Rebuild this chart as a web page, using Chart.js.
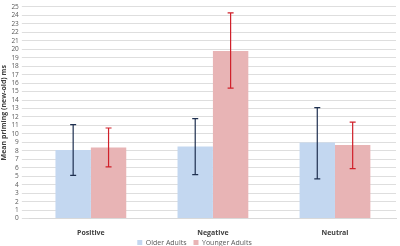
<!DOCTYPE html>
<html>
<head>
<meta charset="utf-8">
<script src="https://cdn.jsdelivr.net/npm/chart.js@4"></script>
<style>
  body { margin: 0; background: #fff; }
  #wrap { width: 400px; height: 246px; }
</style>
</head>
<body>
<div id="wrap"><canvas id="grafico"></canvas></div>
<script>
const categorias = ["Positive", "Negative", "Neutral"];
const olderMean = [8.1, 8.5, 9.0];
const olderLow = [5.1, 5.2, 4.7];
const olderHigh = [11.1, 11.8, 13.1];
const youngerMean = [8.4, 19.8, 8.7];
const youngerLow = [6.1, 15.4, 5.9];
const youngerHigh = [10.7, 24.3, 11.4];

// error bars drawn over the bars, using the chart scales
const barrasError = {
  id: "barrasError",
  afterDatasetsDraw(chart) {
    const ctx = chart.ctx;
    const y = chart.scales.y;
    chart.data.datasets.forEach((ds, i) => {
      const meta = chart.getDatasetMeta(i);
      meta.data.forEach((bar, j) => {
        const top = y.getPixelForValue(ds.errHigh[j]);
        const bot = y.getPixelForValue(ds.errLow[j]);
        ctx.save();
        ctx.strokeStyle = ds.errColor;
        ctx.lineWidth = 1.2;
        ctx.beginPath();
        ctx.moveTo(bar.x, top);
        ctx.lineTo(bar.x, bot);
        ctx.moveTo(bar.x - 3, top);
        ctx.lineTo(bar.x + 3, top);
        ctx.moveTo(bar.x - 3, bot);
        ctx.lineTo(bar.x + 3, bot);
        ctx.stroke();
        ctx.restore();
      });
    });
  },
};

var older = {
  label: "Older Adults",
  data: olderMean,
  errLow: olderLow,
  errHigh: olderHigh,
  errColor: "#1f3050",
  backgroundColor: "#c3d7f0",
  barPercentage: 1,
  categoryPercentage: 0.58,
};

var younger = {
  label: "Younger Adults",
  data: youngerMean,
  errLow: youngerLow,
  errHigh: youngerHigh,
  errColor: "#d0202a",
  backgroundColor: "#e8b4b5",
  barPercentage: 1,
  categoryPercentage: 0.58,
};

new Chart(document.getElementById("grafico"), {
  type: "bar",
  data: { labels: categorias, datasets: [older, younger] },
  options: {
    responsive: true,
    maintainAspectRatio: false,
    animation: false,
    layout: { padding: { top: -3, right: 4, left: 0, bottom: -10 } },
    plugins: {
      legend: {
        display: true,
        position: "bottom",
        labels: {
          boxWidth: 5,
          boxHeight: 5,
          padding: 0,
          color: "#595959",
          font: { family: "Open Sans", size: 7 },
          // padding is 0 to keep the legend low, so add a gap after each text
          generateLabels(chart) {
            const items = Chart.defaults.plugins.legend.labels.generateLabels(chart);
            items.forEach((it) => { it.text = it.text + "\u2002\u2002"; });
            return items;
          },
        },
      },
      tooltip: { enabled: false },
    },
    scales: {
      x: {
        grid: { display: false },
        border: { color: "#d9d9d9" },
        ticks: { color: "#404040", font: { family: "Open Sans", size: 7, weight: "bold" }, padding: 2 },
      },
      y: {
        min: 0,
        max: 25,
        grid: { color: "#dedede" },
        border: { display: false },
        ticks: {
          stepSize: 1,
          autoSkip: false,
          color: "#595959",
          font: { family: "Open Sans", size: 6.5 },
          padding: 3,
        },
        title: {
          display: true,
          text: "Mean priming (new-old) ms",
          color: "#404040",
          font: { family: "Open Sans", size: 7, weight: "bold" },
          padding: 0,
        },
      },
    },
  },
  plugins: [barrasError],
});
</script>
</body>
</html>
